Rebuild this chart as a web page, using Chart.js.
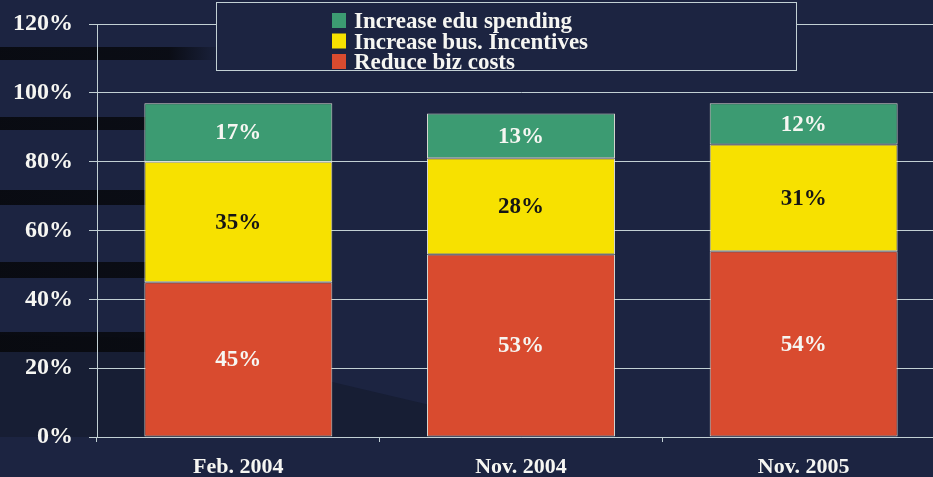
<!DOCTYPE html>
<html>
<head>
<meta charset="utf-8">
<script src="https://cdn.jsdelivr.net/npm/chart.js@4/dist/chart.umd.min.js"></script>
<style>
  html, body { margin: 0; padding: 0; background: #1d2541; overflow: hidden; }
  #wrap { width: 950px; height: 477px; }
</style>
</head>
<body>
<div id="wrap"><canvas id="surveyChart" width="950" height="477"></canvas></div>
<script>
// survey periods and answer shares (%)
const periods = ['Feb. 2004', 'Nov. 2004', 'Nov. 2005'];
const reduceBizCosts = [45, 53, 54];
const increaseBusIncentives = [35, 28, 31];
const increaseEduSpending = [17, 13, 12];
const yTicks = [0, 20, 40, 60, 80, 100, 120];

const colors = {
  bg: '#1c2441',
  grid: '#c2d0d4',
  red: '#d94b2f',
  yellow: '#f7e100',
  green: '#3c9b72',
  barEdge: 'rgba(235, 235, 225, 0.9)',
  text: '#f6f6f2'
};
const serif = '"Liberation Serif", "Times New Roman", serif';

// dark backdrop with a few shadow bands on the left
const backdrop = {
  id: 'backdrop',
  beforeDraw(chart) {
    const ctx = chart.ctx;
    ctx.save();
    ctx.fillStyle = colors.bg;
    ctx.fillRect(0, 0, chart.width, chart.height);

    ctx.fillStyle = 'rgba(8, 10, 16, 0.25)';
    ctx.beginPath();
    ctx.moveTo(0, 335);
    ctx.lineTo(145, 338);
    ctx.lineTo(430, 405);
    ctx.lineTo(430, 437);
    ctx.lineTo(0, 437);
    ctx.closePath();
    ctx.fill();

    const bands = [[47, 13], [117, 13], [190, 15], [262, 16], [332, 20]];
    bands.forEach(([y, h]) => {
      const g = ctx.createLinearGradient(0, 0, 225, 0);
      g.addColorStop(0, 'rgba(6, 7, 10, 0.85)');
      g.addColorStop(0.75, 'rgba(6, 7, 10, 0.8)');
      g.addColorStop(1, 'rgba(6, 7, 10, 0)');
      ctx.fillStyle = g;
      ctx.fillRect(0, y, 225, h);
    });
    ctx.restore();
  }
};

// percentage printed in the middle of each segment
const segmentLabels = {
  id: 'segmentLabels',
  afterDatasetsDraw(chart) {
    const ctx = chart.ctx;
    ctx.save();
    ctx.font = 'bold 23px ' + serif;
    ctx.textAlign = 'center';
    ctx.textBaseline = 'middle';
    chart.data.datasets.forEach((ds, i) => {
      const meta = chart.getDatasetMeta(i);
      meta.data.forEach((bar, j) => {
        ctx.fillStyle = ds.labelColor;
        ctx.fillText(ds.data[j] + '%', bar.x, (bar.y + bar.base) / 2 + 1);
      });
    });
    ctx.restore();
  }
};

// boxed legend, top item first
const boxLegend = {
  id: 'boxLegend',
  afterDraw(chart) {
    const ctx = chart.ctx;
    ctx.save();
    ctx.fillStyle = colors.bg;
    ctx.fillRect(216, 2, 581, 69);
    ctx.strokeStyle = colors.grid;
    ctx.lineWidth = 1;
    ctx.strokeRect(216.5, 2.5, 580, 68);

    ctx.font = 'bold 23px ' + serif;
    ctx.textBaseline = 'alphabetic';
    const items = chart.data.datasets.slice().reverse();
    items.forEach((ds, k) => {
      const base = 28 + k * 20.5;
      ctx.fillStyle = ds.backgroundColor;
      ctx.fillRect(332, base - 15, 14, 15);
      ctx.fillStyle = colors.text;
      ctx.fillText(ds.label, 354, base);
    });
    ctx.restore();
  }
};

new Chart(document.getElementById('surveyChart'), {
  type: 'bar',
  data: {
    labels: periods,
    datasets: [
      {
        label: 'Reduce biz costs',
        data: reduceBizCosts,
        backgroundColor: colors.red,
        labelColor: colors.text
      },
      {
        label: 'Increase bus. Incentives',
        data: increaseBusIncentives,
        backgroundColor: colors.yellow,
        labelColor: '#151515'
      },
      {
        label: 'Increase edu spending',
        data: increaseEduSpending,
        backgroundColor: colors.green,
        labelColor: colors.text
      }
    ]
  },
  options: {
    responsive: false,
    animation: false,
    layout: { padding: { top: 24, right: 5, left: 0, bottom: 0 } },
    datasets: {
      bar: {
        categoryPercentage: 1,
        barPercentage: 0.665,
        borderColor: colors.barEdge,
        borderWidth: 1,
        borderSkipped: false
      }
    },
    plugins: {
      legend: { display: false },
      tooltip: { enabled: false }
    },
    scales: {
      x: {
        stacked: true,
        grid: {
          display: true,
          offset: true,
          drawOnChartArea: false,
          drawTicks: true,
          tickLength: 5,
          color: colors.grid
        },
        border: { display: true, color: colors.grid },
        ticks: {
          color: colors.text,
          padding: 12,
          font: { family: serif, size: 22, weight: 'bold' }
        },
        afterFit(scale) {
          scale.height = 40;
          scale.paddingLeft = 0;
          scale.paddingRight = 0;
        }
      },
      y: {
        stacked: true,
        min: 0,
        max: 120,
        afterBuildTicks(scale) {
          scale.ticks = yTicks.map(v => ({ value: v }));
        },
        grid: {
          color: colors.grid,
          lineWidth: 1,
          drawTicks: true,
          tickLength: 8
        },
        border: { display: true, color: colors.grid },
        ticks: {
          color: colors.text,
          padding: 16,
          font: { family: serif, size: 24, weight: 'bold' },
          callback: v => v + '%'
        },
        afterFit(scale) {
          scale.width = 97;
          scale.paddingTop = 0;
          scale.paddingBottom = 0;
        }
      }
    }
  },
  plugins: [backdrop, segmentLabels, boxLegend]
});
</script>
</body>
</html>
